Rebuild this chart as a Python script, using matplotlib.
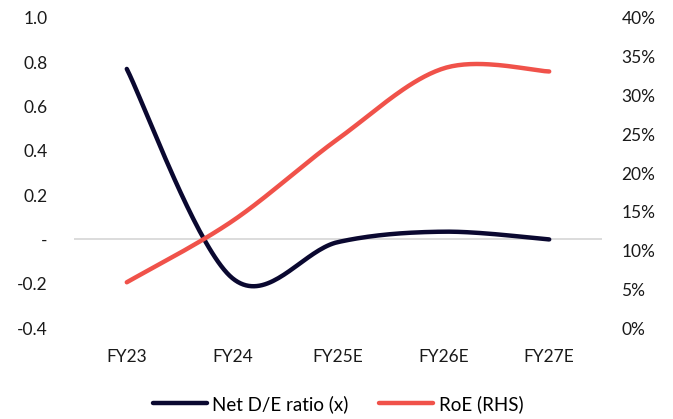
import numpy as np
import matplotlib
matplotlib.use("Agg")
import matplotlib.pyplot as plt
from matplotlib.ticker import FuncFormatter

categories = ["FY23", "FY24", "FY25E", "FY26E", "FY27E"]
net_de = [0.77, -0.175, -0.012, 0.035, 0.0]
roe = [5.9, 13.8, 24.4, 33.5, 33.1]

plt.rcParams['font.family'] = ['Lato', 'DejaVu Sans']

def smooth(xs, ys, n=40):
    xs = np.asarray(xs, float); ys = np.asarray(ys, float)
    px = np.concatenate([[xs[0]], xs, [xs[-1]]])
    py = np.concatenate([[ys[0]], ys, [ys[-1]]])
    ox, oy = [], []
    t = np.linspace(0, 1, n)
    for i in range(1, len(px) - 2):
        p0x, p1x, p2x, p3x = px[i-1], px[i], px[i+1], px[i+2]
        p0y, p1y, p2y, p3y = py[i-1], py[i], py[i+1], py[i+2]
        b1x = p1x + (p2x - p0x) / 6; b1y = p1y + (p2y - p0y) / 6
        b2x = p2x - (p3x - p1x) / 6; b2y = p2y - (p3y - p1y) / 6
        bx = (1-t)**3*p1x + 3*(1-t)**2*t*b1x + 3*(1-t)*t**2*b2x + t**3*p2x
        by = (1-t)**3*p1y + 3*(1-t)**2*t*b1y + 3*(1-t)*t**2*b2y + t**3*p2y
        ox.extend(bx); oy.extend(by)
    return np.array(ox), np.array(oy)

fig = plt.figure(figsize=(6.73, 4.19), dpi=100)
ax = fig.add_axes([74/673, 1-328/419, 528/673, 310/419])
ax2 = ax.twinx()

x = np.arange(len(categories))
navy = "#0A0830"
red = "#F0524A"

ax.axhline(0, color="#D9D9D9", lw=1.3, zorder=1)
sx, sy = smooth(x, net_de)
l1, = ax.plot(sx, sy, color=navy, lw=3.2, solid_capstyle="round", zorder=3, label="Net D/E ratio (x)")
rx, ry = smooth(x, roe)
l2, = ax2.plot(rx, ry, color=red, lw=3.2, solid_capstyle="round", zorder=3, label="RoE (RHS)")

ax.set_xlim(-0.5, len(categories) - 0.5)
ax.set_ylim(-0.4, 1.0)
ax.set_yticks(np.round(np.arange(-0.4, 1.01, 0.2), 1))
ax.yaxis.set_major_formatter(FuncFormatter(lambda v, p: "-" if abs(v) < 1e-9 else f"{v:.1f}"))
ax2.set_ylim(0, 40)
ax2.set_yticks(np.arange(0, 41, 5))
ax2.yaxis.set_major_formatter(FuncFormatter(lambda v, p: f"{v:.0f}%"))
ax.set_xticks(x)
ax.set_xticklabels(categories)

for a in (ax, ax2):
    for s in a.spines.values():
        s.set_visible(False)
ax.tick_params(axis="y", length=0, pad=19, labelsize=12.5, colors="#1a1a1a")
ax.tick_params(axis="x", length=0, pad=15, labelsize=12.5, colors="#1a1a1a")
ax2.tick_params(axis="y", length=0, pad=14, labelsize=12.5, colors="#1a1a1a")
ax2.set_zorder(ax.get_zorder() + 1)
ax2.patch.set_visible(False)

fig.legend(handles=[l1, l2], loc="center", bbox_to_anchor=(338/673, 1-404/419), ncol=2,
           frameon=False, fontsize=13.5, handlelength=2.9, handletextpad=0.3, columnspacing=1.6)

fig.savefig("out.png", dpi=100)
